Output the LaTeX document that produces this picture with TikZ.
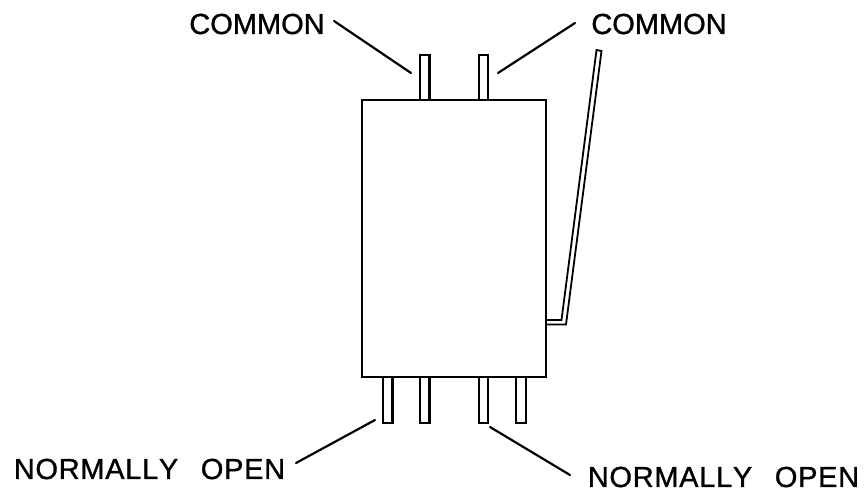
\documentclass[tikz,border=0pt]{standalone}
\usepackage{fontspec}
\newfontfamily\labelfont[FakeBold=1,Kerning=Off]{Liberation Sans}
\newcommand{\bigtext}{\labelfont\fontsize{29}{32}\selectfont}
\newcommand{\widetext}[1]{{\addfontfeature{LetterSpace=2.4}#1}}
\tikzset{
  pin/.style={draw, rectangle, minimum width=9.5pt, minimum height=45.5pt, inner sep=0pt},
  label/.style={inner sep=0pt, font=\bigtext},
  leader/.style={line width=2.2pt}
}
\begin{document}
\begin{tikzpicture}[x=1pt, y=-1pt, line width=2.2pt, line cap=round]
\useasboundingbox (0,0) rectangle (867,495);
\node (t1)[pin] at (424.7,77.5) {};
\node (t2)[pin] at (483.5,77.5) {};
\node (b1)[pin] at (387.7,400) {};
\node (b2)[pin] at (424.7,400) {};
\node (b3)[pin] at (483.5,400) {};
\node (b4)[pin] at (521,400) {};
\node (body)[draw, rectangle, fill=white, minimum width=184pt, minimum height=277pt, inner sep=0pt] at (454,238.5) {};
\node (com1)[label] at (257,24) {COMMON};
\node (com2)[label] at (659,24) {COMMON};
\node (no1)[label] at (149.5,469) {\widetext{NORMALLY\hspace{0.78em}OPEN}};
\node (no2)[label] at (723.5,477) {\widetext{NORMALLY\hspace{0.78em}OPEN}};
\coordinate (a1) at (334,21);
\coordinate (a2) at (411,73);
\coordinate (c1) at (575,23);
\coordinate (c2) at (498,73);
\coordinate (d1) at (296,463);
\coordinate (d2) at (375,420);
\coordinate (e1) at (490,427);
\coordinate (e2) at (570,475);
\draw[leader] (a1) -- (a2);
\draw[leader] (c1) -- (c2);
\draw[leader] (d1) -- (d2);
\draw[leader] (e1) -- (e2);
\coordinate (l1) at (546,320);
\coordinate (l2) at (561.5,320);
\coordinate (l3) at (596.5,50);
\coordinate (l4) at (601.5,51);
\coordinate (l5) at (566,324.5);
\coordinate (l6) at (546,324.5);
\draw[line width=1.8pt] (l1) -- (l2) -- (l3) -- (l4) -- (l5) -- (l6);
\end{tikzpicture}
\end{document}
